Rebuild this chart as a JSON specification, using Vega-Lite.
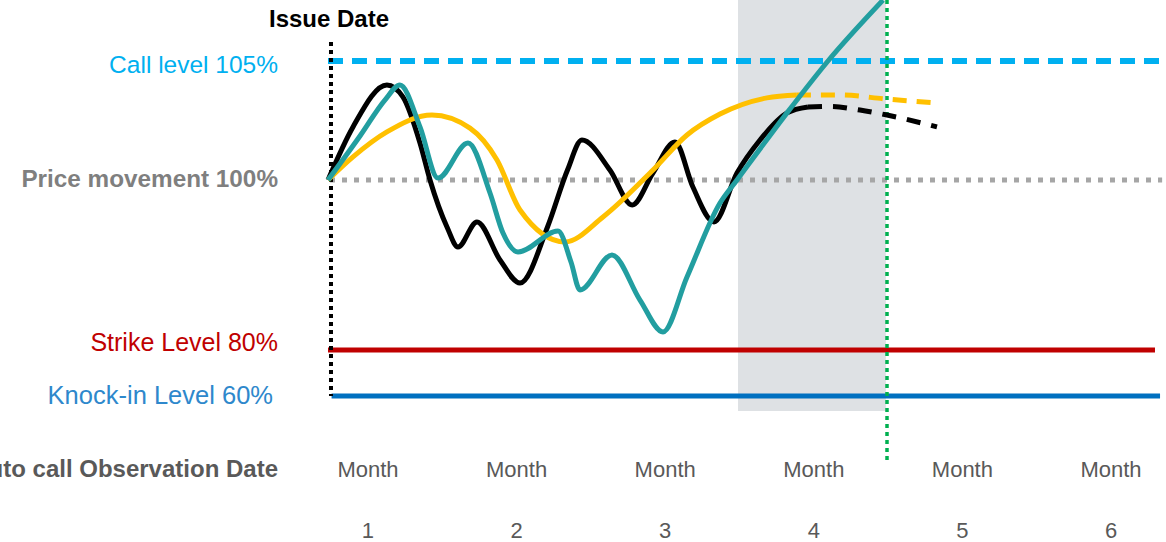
{
  "$schema": "https://vega.github.io/schema/vega-lite/v6.json",
  "width": 1166,
  "height": 542,
  "padding": 0,
  "autosize": "none",
  "background": "white",
  "config": {"view": {"stroke": null}, "font": "Liberation Sans"},
  "datasets": {
    "curves": [
      {"series": "black", "t": 0.7308, "level": 100},
      {"series": "black", "t": 0.899, "level": 102.23},
      {"series": "black", "t": 1.1272, "level": 103.99},
      {"series": "black", "t": 1.2348, "level": 103.49},
      {"series": "black", "t": 1.3499, "level": 101.55},
      {"series": "black", "t": 1.4173, "level": 100.0},
      {"series": "black", "t": 1.5316, "level": 94.47},
      {"series": "black", "t": 1.6056, "level": 92.12},
      {"series": "black", "t": 1.7335, "level": 95.06},
      {"series": "black", "t": 1.8883, "level": 90.59},
      {"series": "black", "t": 2.0229, "level": 87.88},
      {"series": "black", "t": 2.208, "level": 94.47},
      {"series": "black", "t": 2.3425, "level": 100.42},
      {"series": "black", "t": 2.4394, "level": 101.68},
      {"series": "black", "t": 2.6279, "level": 100.42},
      {"series": "black", "t": 2.778, "level": 97.06},
      {"series": "black", "t": 2.9172, "level": 100.29},
      {"series": "black", "t": 3.0653, "level": 101.6},
      {"series": "black", "t": 3.1864, "level": 99.18},
      {"series": "black", "t": 3.3284, "level": 95.06},
      {"series": "black", "t": 3.4832, "level": 100.29},
      {"series": "black", "t": 3.638, "level": 101.68},
      {"series": "black", "t": 3.8197, "level": 102.82},
      {"series": "black", "t": 3.961, "level": 103.07},
      {"series": "black_fc", "t": 3.961, "level": 103.07},
      {"series": "black_fc", "t": 4.109, "level": 103.09},
      {"series": "black_fc", "t": 4.3109, "level": 102.94},
      {"series": "black_fc", "t": 4.4926, "level": 102.73},
      {"series": "black_fc", "t": 4.829, "level": 102.23},
      {"series": "yellow", "t": 0.7308, "level": 100},
      {"series": "yellow", "t": 0.899, "level": 100.97},
      {"series": "yellow", "t": 1.1272, "level": 102.02},
      {"series": "yellow", "t": 1.4306, "level": 102.73},
      {"series": "yellow", "t": 1.6864, "level": 102.18},
      {"series": "yellow", "t": 1.8681, "level": 100.84},
      {"series": "yellow", "t": 2.0229, "level": 96.47},
      {"series": "yellow", "t": 2.3257, "level": 92.71},
      {"series": "yellow", "t": 2.5814, "level": 95.65},
      {"series": "yellow", "t": 2.9179, "level": 100.42},
      {"series": "yellow", "t": 3.1467, "level": 101.89},
      {"series": "yellow", "t": 3.3688, "level": 102.77},
      {"series": "yellow", "t": 3.6844, "level": 103.45},
      {"series": "yellow", "t": 3.8863, "level": 103.57},
      {"series": "yellow_fc", "t": 3.8863, "level": 103.57},
      {"series": "yellow_fc", "t": 4.1756, "level": 103.57},
      {"series": "yellow_fc", "t": 4.4919, "level": 103.4},
      {"series": "yellow_fc", "t": 4.8284, "level": 103.24},
      {"series": "teal", "t": 0.7308, "level": 100},
      {"series": "teal", "t": 0.9461, "level": 101.85},
      {"series": "teal", "t": 1.1137, "level": 103.36},
      {"series": "teal", "t": 1.2153, "level": 103.99},
      {"series": "teal", "t": 1.3499, "level": 102.23},
      {"series": "teal", "t": 1.4711, "level": 100.08},
      {"series": "teal", "t": 1.6729, "level": 101.55},
      {"series": "teal", "t": 1.821, "level": 98.47},
      {"series": "teal", "t": 1.9085, "level": 93.76},
      {"series": "teal", "t": 2.0094, "level": 91.53},
      {"series": "teal", "t": 2.2786, "level": 94.0},
      {"series": "teal", "t": 2.3661, "level": 90.35},
      {"series": "teal", "t": 2.4266, "level": 87.06},
      {"series": "teal", "t": 2.642, "level": 91.18},
      {"series": "teal", "t": 2.8304, "level": 85.88},
      {"series": "teal", "t": 2.9852, "level": 82.12},
      {"series": "teal", "t": 3.1467, "level": 88.59},
      {"series": "teal", "t": 3.3688, "level": 97.29},
      {"series": "teal", "t": 3.4832, "level": 100.0},
      {"series": "teal", "t": 3.8197, "level": 102.82},
      {"series": "teal", "t": 4.0955, "level": 105.0},
      {"series": "teal", "t": 4.4657, "level": 107.56}
    ],
    "levels": [
      {"name": "call", "t": 0.7308, "t2": 6.3701, "level": 105},
      {"name": "price", "t": 0.7443, "t2": 6.344, "level": 100},
      {"name": "strike", "t": 0.7308, "t2": 6.296, "level": 80},
      {"name": "knockin", "t": 0.755, "t2": 6.33, "level": 60}
    ],
    "markers": [
      {"name": "issue", "t": 0.751, "level": 105.8, "level2": 60},
      {"name": "observation", "t": 4.4926, "level": 107.56, "level2": 31.3}
    ],
    "shade": [
      {"t": 3.49, "t2": 4.485, "level": 107.56, "level2": 53.48}
    ],
    "labels": [
      {"group": "title", "text": "Issue Date", "t": 0.7376, "level": 106.43},
      {"group": "call", "text": "Call level 105%", "t": 0.3943, "level": 104.5},
      {"group": "price", "text": "Price movement 100%", "t": 0.3943, "level": 99.18},
      {"group": "strike", "text": "Strike Level 80%", "t": 0.3943, "level": 79.57},
      {"group": "knockin", "text": "Knock-in Level 60%", "t": 0.3607, "level": 56.52},
      {"group": "auto", "text": "Auto call Observation Date", "t": 0.3943, "level": 24.78},
      {"group": "month", "text": "Month", "t": 1, "level": 24.78},
      {"group": "month", "text": "Month", "t": 2, "level": 24.78},
      {"group": "month", "text": "Month", "t": 3, "level": 24.78},
      {"group": "month", "text": "Month", "t": 4, "level": 24.78},
      {"group": "month", "text": "Month", "t": 5, "level": 24.78},
      {"group": "month", "text": "Month", "t": 6, "level": 24.78},
      {"group": "month", "text": "1", "t": 1, "level": -1.74},
      {"group": "month", "text": "2", "t": 2, "level": -1.74},
      {"group": "month", "text": "3", "t": 3, "level": -1.74},
      {"group": "month", "text": "4", "t": 4, "level": -1.74},
      {"group": "month", "text": "5", "t": 5, "level": -1.74},
      {"group": "month", "text": "6", "t": 6, "level": -1.74}
    ]
  },
  "encoding": {
    "x": {"field": "t", "type": "quantitative", "axis": null, "scale": {"domain": [-1.4764, 6.3701], "range": [0, 1166], "nice": false, "zero": false}},
    "y": {"field": "level", "type": "quantitative", "axis": null, "scale": {"domain": [-10, 60, 80, 100, 105, 110], "range": [557, 396, 350, 180, 61, -58], "nice": false, "zero": false}}
  },
  "layer": [
    {
      "data": {"name": "shade"},
      "mark": {"type": "rect", "color": "#dee1e4"},
      "encoding": {"x2": {"field": "t2"}, "y2": {"field": "level2"}}
    },
    {
      "data": {"name": "levels"},
      "transform": [{"filter": "datum.name === 'strike'"}],
      "mark": {"type": "rule", "color": "#c00000", "strokeWidth": 5},
      "encoding": {"x2": {"field": "t2"}}
    },
    {
      "data": {"name": "levels"},
      "transform": [{"filter": "datum.name === 'knockin'"}],
      "mark": {"type": "rule", "color": "#0070c0", "strokeWidth": 5},
      "encoding": {"x2": {"field": "t2"}}
    },
    {
      "data": {"name": "levels"},
      "transform": [{"filter": "datum.name === 'call'"}],
      "mark": {"type": "rule", "color": "#00b0f0", "strokeWidth": 6, "strokeDash": [15, 9]},
      "encoding": {"x2": {"field": "t2"}}
    },
    {
      "data": {"name": "levels"},
      "transform": [{"filter": "datum.name === 'price'"}],
      "mark": {"type": "rule", "color": "#a6a6a6", "strokeWidth": 5, "strokeDash": [5, 7]},
      "encoding": {"x2": {"field": "t2"}}
    },
    {
      "data": {"name": "markers"},
      "transform": [{"filter": "datum.name === 'issue'"}],
      "mark": {"type": "rule", "color": "#000000", "strokeWidth": 4, "strokeDash": [4, 4]},
      "encoding": {"y2": {"field": "level2"}}
    },
    {
      "data": {"name": "markers"},
      "transform": [{"filter": "datum.name === 'observation'"}],
      "mark": {"type": "rule", "color": "#00b050", "strokeWidth": 3.5, "strokeDash": [4, 4]},
      "encoding": {"y2": {"field": "level2"}}
    },
    {
      "data": {"name": "curves"},
      "transform": [{"filter": "datum.series === 'black_fc'"}],
      "mark": {"type": "line", "color": "#000000", "strokeWidth": 5, "strokeDash": [14, 11], "interpolate": "monotone"}
    },
    {
      "data": {"name": "curves"},
      "transform": [{"filter": "datum.series === 'yellow_fc'"}],
      "mark": {"type": "line", "color": "#ffc000", "strokeWidth": 5, "strokeDash": [14, 10], "interpolate": "monotone"}
    },
    {
      "data": {"name": "curves"},
      "transform": [{"filter": "datum.series === 'black'"}],
      "mark": {"type": "line", "color": "#000000", "strokeWidth": 5, "interpolate": "monotone"}
    },
    {
      "data": {"name": "curves"},
      "transform": [{"filter": "datum.series === 'yellow'"}],
      "mark": {"type": "line", "color": "#ffc000", "strokeWidth": 5, "interpolate": "monotone"}
    },
    {
      "data": {"name": "curves"},
      "transform": [{"filter": "datum.series === 'teal'"}],
      "mark": {"type": "line", "color": "#229ea0", "strokeWidth": 5, "interpolate": "monotone"}
    },
    {
      "data": {"name": "labels"},
      "transform": [{"filter": "datum.group === 'title'"}],
      "mark": {"type": "text", "align": "center", "baseline": "alphabetic", "fontSize": 24, "fontWeight": "bold", "color": "#000000"},
      "encoding": {"text": {"field": "text"}}
    },
    {
      "data": {"name": "labels"},
      "transform": [{"filter": "datum.group === 'call'"}],
      "mark": {"type": "text", "align": "right", "baseline": "alphabetic", "fontSize": 24.5, "color": "#00b0f0"},
      "encoding": {"text": {"field": "text"}}
    },
    {
      "data": {"name": "labels"},
      "transform": [{"filter": "datum.group === 'price'"}],
      "mark": {"type": "text", "align": "right", "baseline": "alphabetic", "fontSize": 24.3, "fontWeight": "bold", "color": "#7f7f7f"},
      "encoding": {"text": {"field": "text"}}
    },
    {
      "data": {"name": "labels"},
      "transform": [{"filter": "datum.group === 'strike'"}],
      "mark": {"type": "text", "align": "right", "baseline": "alphabetic", "fontSize": 25, "color": "#c00000"},
      "encoding": {"text": {"field": "text"}}
    },
    {
      "data": {"name": "labels"},
      "transform": [{"filter": "datum.group === 'knockin'"}],
      "mark": {"type": "text", "align": "right", "baseline": "alphabetic", "fontSize": 25.5, "color": "#2e88cc"},
      "encoding": {"text": {"field": "text"}}
    },
    {
      "data": {"name": "labels"},
      "transform": [{"filter": "datum.group === 'auto'"}],
      "mark": {"type": "text", "align": "right", "baseline": "alphabetic", "fontSize": 24, "fontWeight": "bold", "color": "#595959"},
      "encoding": {"text": {"field": "text"}}
    },
    {
      "data": {"name": "labels"},
      "transform": [{"filter": "datum.group === 'month'"}],
      "mark": {"type": "text", "align": "center", "baseline": "alphabetic", "fontSize": 22, "color": "#595959"},
      "encoding": {"text": {"field": "text"}}
    }
  ]
}
